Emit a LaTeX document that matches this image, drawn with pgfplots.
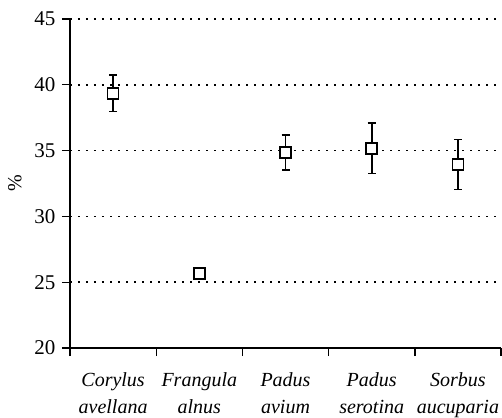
\documentclass[border=0pt]{standalone}
\usepackage{pgfplots}
\pgfplotsset{compat=1.18}
\usepackage{fontspec}
\setmainfont{Liberation Serif}
\begin{document}
\fontsize{19}{22}\selectfont
\begin{tikzpicture}
\begin{axis}[
  scale only axis,
  width=431pt, height=329pt,
  xmin=0, xmax=5, ymin=20, ymax=45,
  axis lines*=left,
  axis line style={line width=1.4pt, -},
  tick align=outside,
  major tick length=8pt,
  tick style={line width=1.4pt, black},
  xtick={0,1,2,3,4,5},
  x tick label as interval,
  xticklabels={{\textit{Corylus}\\\textit{avellana}},{\textit{Frangula}\\\textit{alnus}},{\textit{Padus}\\\textit{avium}},{\textit{Padus}\\\textit{serotina}},{\textit{Sorbus}\\\textit{aucuparia}}},
  xticklabel style={align=center, font=\fontsize{20}{27}\selectfont, yshift=-10pt},
  ytick={20,25,...,45},
  yticklabel style={font=\fontsize{21}{22}\selectfont},
  /pgf/number format/assume math mode=true,
  ymajorgrids,
  grid style={dash pattern=on 2pt off 6pt, line width=1.5pt, black},
  ylabel={\%},
  ylabel style={font=\fontsize{20}{22}\selectfont},
  clip=false,
]
\addplot[black, line width=1.6pt, only marks, mark=square*, mark size=5.5pt,
  mark options={fill=white, line width=1.6pt},
  error bars/.cd, y dir=both, y explicit,
  error mark options={rotate=90, mark size=4pt, line width=1.6pt},
  error bar style={line width=1.6pt}]
  coordinates {
  (0.5,39.35) +- (0,1.39)
  (1.5,25.68) +- (0,0.44)
  (2.5,34.87) +- (0,1.33)
  (3.5,35.18) +- (0,1.93)
  (4.5,33.93) +- (0,1.9)
  };
\end{axis}
\pgfresetboundingbox
\path[use as bounding box] ([xshift=-70pt,yshift=-69pt]current axis.south west) rectangle ([xshift=1pt,yshift=19pt]current axis.north east);
\end{tikzpicture}
\end{document}
